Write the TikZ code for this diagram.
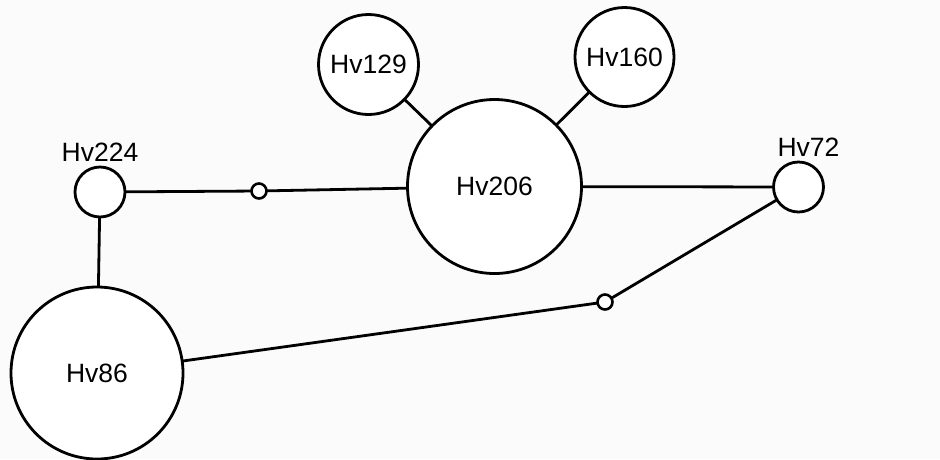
\documentclass[tikz,border=0pt]{standalone}
\usepackage{fontspec}
\setmainfont{Liberation Sans}
\begin{document}
\begin{tikzpicture}[x=1pt,y=-1pt,
  hap/.style={circle,draw=black,line width=2.8pt,fill=white,inner sep=0pt,outer sep=0pt,
    font=\fontsize{26.5}{30}\selectfont},
  tiny/.style={circle,draw=black,line width=2.6pt,fill=white,inner sep=0pt,outer sep=0pt,minimum size=15pt},
  link/.style={line width=2.8pt},
  tag/.style={font=\fontsize{26.5}{30}\selectfont,inner sep=0pt,label distance=5pt}]
  % canvas
  \fill[fill={rgb,255:red,251;green,251;blue,251}] (0,0) rectangle (940,459);
  \useasboundingbox (0,0) rectangle (940,459);

  % haplotype circles
  \node[hap,minimum size=174pt] (hv206) at (494.5,186.5) {Hv206};
  \node[hap,minimum size=100pt] (hv129) at (368.5,64.5) {Hv129};
  \node[hap,minimum size=99pt] (hv160) at (624.5,57) {Hv160};
  \node[hap,minimum size=172pt] (hv86) at (97,373) {Hv86};
  \node[hap,minimum size=50pt,label={[tag]above:Hv224}] (hv224) at (100,192) {};
  \node[hap,minimum size=50pt,label={[tag,xshift=10pt]above:Hv72}] (hv72) at (798.5,187) {};

  % median vectors
  \node[tiny] (mv1) at (259,191) {};
  \node[tiny] (mv2) at (605,302) {};

  % connectors
  \draw[link] (hv224) -- (mv1);
  \draw[link] (mv1) -- (hv206);
  \draw[link] (hv206) -- (hv72);
  \draw[link] (hv72) -- (mv2);
  \draw[link] (mv2) -- (hv86);
  \draw[link] (hv224) -- (hv86);
  \draw[link] (hv129) -- (hv206);
  \draw[link] (hv160) -- (hv206);
\end{tikzpicture}
\end{document}
